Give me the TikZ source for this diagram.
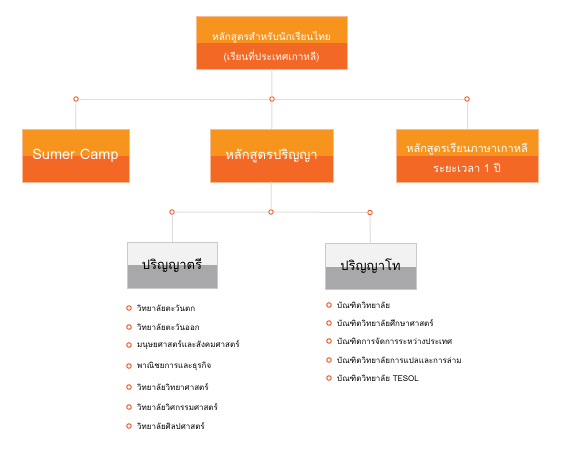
\documentclass[tikz,border=0pt]{standalone}
\usepackage{fontspec}
\newfontfamily\thaifont[Script=Thai]{Loma}
\definecolor{orangelight}{HTML}{F7941E}
\definecolor{orangedark}{HTML}{F26824}
\definecolor{orangeline}{HTML}{F9BC92}
\definecolor{graylight}{HTML}{F2F2F2}
\definecolor{graydark}{HTML}{A8A8AB}
\definecolor{grayline}{HTML}{CACACA}
\definecolor{linkgray}{HTML}{DDDDDD}
\definecolor{dotred}{HTML}{F05A28}
\tikzset{
  orangebox/.style={draw=orangeline, fill=orangedark, text=white, align=center,
    inner sep=0pt, minimum height=53pt, font=\thaifont\fontsize{10}{20}\selectfont,
    path picture={\fill[orangelight] (path picture bounding box.north west) rectangle (path picture bounding box.east);}},
  boxtext/.style={text=white, align=center, inner sep=0pt},
  graybox/.style={draw=grayline, fill=graydark, text=black, inner sep=0pt,
    minimum width=90pt, minimum height=46pt, font=\thaifont\fontsize{13}{15}\selectfont,
    path picture={\fill[graylight] (path picture bounding box.north west) rectangle (path picture bounding box.east);}},
  joint/.style={circle, draw=dotred, fill=white, line width=0.9pt, inner sep=0pt, minimum size=4.5pt},
  bullet/.style={circle, draw=dotred, fill=white, line width=1pt, inner sep=0pt, minimum size=4.5pt},
  item/.style={anchor=west, inner sep=0pt, font=\thaifont\fontsize{8}{10}\selectfont},
  link/.style={draw=linkgray, line width=1pt}
}
\begin{document}
\begin{tikzpicture}[x=1pt, y=-1pt]
  \useasboundingbox (0,0) rectangle (561,453);

  \node[orangebox, minimum width=151pt] (top) at (271.5,42.5) {};
  \node[boxtext, font=\thaifont\fontsize{10}{20}\selectfont] (top-t) at ([yshift=-4.5pt]top.center) {หลักสูตรสำหรับนักเรียนไทย\\(เรียนที่ประเทศเกาหลี)};

  \node[joint] (jL) at (76,99) {};
  \node[joint] (jM) at (272,99) {};
  \node[joint] (jR) at (467,99) {};

  \node[orangebox, minimum width=107pt, font=\thaifont\fontsize{14.5}{16}\selectfont] (camp) at (75.5,155.5) {Sumer Camp};
  \node[orangebox, minimum width=123pt, font=\thaifont\fontsize{13}{15}\selectfont] (degree) at (271.5,155.5) {หลักสูตรปริญญา};
  \node[orangebox, minimum width=142pt] (korean) at (467,155.5) {};
  \node[boxtext, font=\thaifont\fontsize{11}{19.5}\selectfont] (korean-t) at ([yshift=-2.5pt]korean.center) {หลักสูตรเรียนภาษาเกาหลี\\ระยะเวลา 1 ปี};

  \node[joint] (kL) at (172,212) {};
  \node[joint] (kM) at (271,212) {};
  \node[joint] (kR) at (370,212.5) {};

  \node[graybox] (bachelor) at (172,265) {ปริญญาตรี};
  \node[graybox, minimum width=91pt] (master) at (370.5,266.5) {ปริญญาโท};

  \draw[link] (top) -- (jM);
  \draw[link] (jL) -- (jM) -- (jR);
  \draw[link] (jL) -- (camp);
  \draw[link] (jM) -- (degree);
  \draw[link] (jR) -- (korean);
  \draw[link] (degree) -- (kM);
  \draw[link] (kL) -- (kM) -- (kR);
  \draw[link] (kL) -- (bachelor);
  \draw[link] (kR) -- (master);

  % bachelor list
  \foreach \y/\t [count=\i] in {308/วิทยาลัยตะวันตก, 327/วิทยาลัยตะวันออก,
      345/มนุษยศาสตร์และสังคมศาสตร์, 366/พาณิชยการและธุรกิจ,
      387/วิทยาลัยวิทยาศาสตร์, 407/วิทยาลัยวิศกรรมศาสตร์, 426/วิทยาลัยศิลปศาสตร์}{
    \node[bullet] (bb\i) at (129,\y) {};
    \node[item] (bt\i) at (137,\y) {\t};
  }

  % master list
  \foreach \y/\t [count=\i] in {305/บัณฑิตวิทยาลัย, 323/บัณฑิตวิทยาลัยศึกษาศาสตร์,
      341/บัณฑิตการจัดการระหว่างประเทศ, 360/บัณฑิตวิทยาลัยการแปลและการล่าม,
      378/บัณฑิตวิทยาลัย TESOL}{
    \node[bullet] (mb\i) at (329,\y) {};
    \node[item] (mt\i) at (337,\y) {\t};
  }
\end{tikzpicture}
\end{document}
